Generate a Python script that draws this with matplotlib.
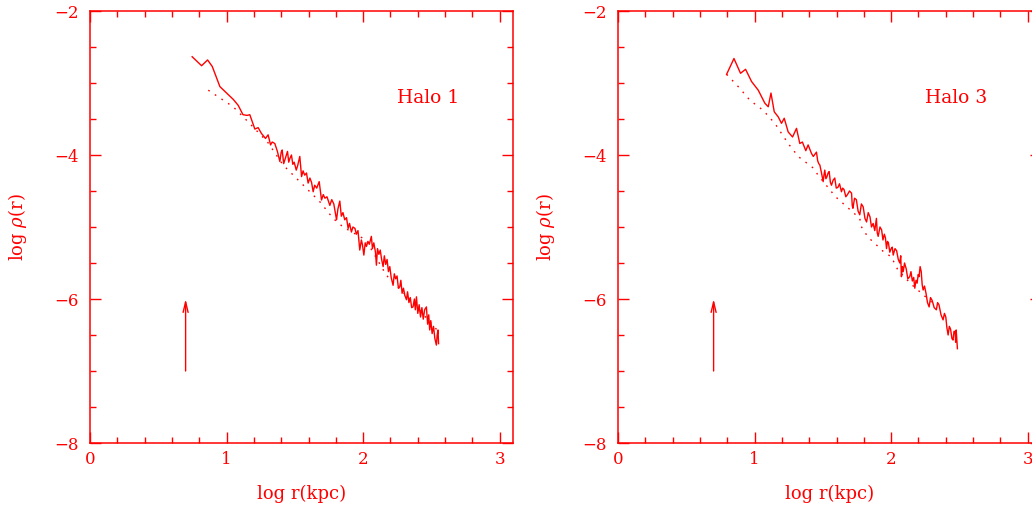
import numpy as np
import matplotlib
matplotlib.use('Agg')
import matplotlib.pyplot as plt
from matplotlib.ticker import MultipleLocator

plt.rcParams['font.family'] = 'DejaVu Serif'
plt.rcParams['mathtext.fontset'] = 'dejavuserif'

RED = '#ff0000'

# Halo 1: measured profile (log r, log rho)
h1_logr = [0.748, 0.817, 0.861, 0.895, 0.951, 1.012, 1.050, 1.085, 1.120, 1.150,
           1.170, 1.207, 1.231, 1.255, 1.285, 1.304, 1.322, 1.334, 1.353, 1.372,
           1.390, 1.400, 1.407, 1.418, 1.426, 1.440, 1.446, 1.455, 1.463, 1.475,
           1.485, 1.495, 1.510, 1.520, 1.536, 1.549, 1.560, 1.572, 1.585, 1.597,
           1.610, 1.622, 1.634, 1.645, 1.660, 1.678, 1.695, 1.708, 1.720, 1.735,
           1.756, 1.770, 1.785, 1.805, 1.815, 1.829, 1.840, 1.852, 1.865, 1.878,
           1.890, 1.900, 1.914, 1.925, 1.940, 1.950, 1.962, 1.975, 1.987, 1.995,
           2.005, 2.015, 2.024, 2.035, 2.045, 2.060, 2.068, 2.078, 2.090, 2.097,
           2.105, 2.115, 2.125, 2.135, 2.146, 2.155, 2.165, 2.175, 2.185, 2.195,
           2.205, 2.219, 2.228, 2.238, 2.248, 2.258, 2.268, 2.276, 2.285, 2.295,
           2.305, 2.317, 2.325, 2.335, 2.345, 2.355, 2.365, 2.375, 2.382, 2.390,
           2.400, 2.410, 2.420, 2.430, 2.440, 2.450, 2.463, 2.472, 2.480, 2.487,
           2.495, 2.505, 2.515, 2.525, 2.536, 2.542, 2.548, 2.552]
h1_logrho = [-2.635, -2.76, -2.68, -2.77, -3.05, -3.16, -3.23, -3.31, -3.44, -3.45,
             -3.44, -3.64, -3.62, -3.70, -3.77, -3.72, -3.86, -3.82, -3.84, -3.95,
             -4.09, -3.96, -3.93, -4.12, -4.07, -3.98, -3.95, -4.10, -4.05, -4.00,
             -4.13, -4.10, -4.21, -4.15, -4.02, -4.30, -4.22, -4.28, -4.25, -4.39,
             -4.32, -4.38, -4.51, -4.42, -4.46, -4.37, -4.625, -4.55, -4.60, -4.58,
             -4.70, -4.62, -4.68, -4.90, -4.75, -4.64, -4.85, -4.80, -4.90, -4.87,
             -5.02, -4.95, -5.07, -5.00, -5.02, -5.10, -5.05, -5.32, -5.18, -5.25,
             -5.39, -5.22, -5.27, -5.20, -5.24, -5.13, -5.30, -5.22, -5.35, -5.53,
             -5.30, -5.38, -5.32, -5.45, -5.55, -5.40, -5.52, -5.45, -5.62, -5.55,
             -5.70, -5.81, -5.65, -5.72, -5.68, -5.85, -5.83, -5.74, -5.92, -5.85,
             -5.95, -6.01, -5.90, -6.05, -5.98, -6.12, -6.11, -6.00, -6.15, -5.97,
             -6.20, -6.08, -6.25, -6.12, -6.28, -6.15, -6.11, -6.35, -6.22, -6.43,
             -6.30, -6.48, -6.38, -6.55, -6.64, -6.50, -6.43, -6.62]

# Halo 1: fitted profile (dotted)
h1_fit_logr = [0.866, 1.048, 1.158, 1.300, 1.414, 1.536, 1.683, 1.780, 1.853, 2.020, 2.170, 2.350, 2.550]
h1_fit_logrho = [-3.10, -3.33, -3.54, -3.82, -4.14, -4.37, -4.65, -4.88, -5.00, -5.18, -5.67, -6.02, -6.45]

# Halo 3: measured profile
h3_logr = [0.795, 0.849, 0.897, 0.934, 0.978, 1.027, 1.075, 1.100, 1.120, 1.144,
           1.173, 1.197, 1.217, 1.246, 1.278, 1.307, 1.331, 1.350, 1.375, 1.392,
           1.417, 1.430, 1.453, 1.462, 1.470, 1.478, 1.490, 1.502, 1.508, 1.514,
           1.522, 1.530, 1.538, 1.546, 1.555, 1.563, 1.575, 1.587, 1.598, 1.610,
           1.622, 1.636, 1.645, 1.655, 1.668, 1.680, 1.695, 1.710, 1.715, 1.720,
           1.732, 1.745, 1.758, 1.770, 1.782, 1.795, 1.808, 1.820, 1.832, 1.845,
           1.856, 1.868, 1.880, 1.892, 1.898, 1.905, 1.918, 1.930, 1.940, 1.950,
           1.958, 1.966, 1.973, 1.980, 1.990, 2.000, 2.008, 2.015, 2.028, 2.040,
           2.052, 2.063, 2.070, 2.075, 2.082, 2.088, 2.098, 2.110, 2.122, 2.136,
           2.145, 2.155, 2.165, 2.173, 2.182, 2.190, 2.198, 2.204, 2.212, 2.220,
           2.227, 2.234, 2.244, 2.255, 2.266, 2.278, 2.288, 2.300, 2.315, 2.331,
           2.340, 2.350, 2.365, 2.380, 2.390, 2.400, 2.408, 2.417, 2.426, 2.435,
           2.445, 2.453, 2.460, 2.468, 2.472, 2.476, 2.485]
h3_logrho = [-2.88, -2.66, -2.865, -2.81, -2.98, -3.10, -3.28, -3.33, -3.14, -3.40,
             -3.47, -3.56, -3.49, -3.68, -3.75, -3.63, -3.84, -3.82, -3.94, -3.86,
             -3.98, -4.02, -3.96, -4.08, -4.12, -4.14, -4.25, -4.37, -4.28, -4.21,
             -4.33, -4.30, -4.25, -4.23, -4.38, -4.42, -4.35, -4.32, -4.46, -4.45,
             -4.40, -4.51, -4.46, -4.48, -4.58, -4.55, -4.50, -4.53, -4.70, -4.74,
             -4.60, -4.62, -4.78, -4.83, -4.68, -4.72, -4.88, -4.93, -4.80, -4.86,
             -5.00, -4.95, -5.05, -4.88, -5.08, -5.13, -5.00, -5.04, -5.18, -5.10,
             -5.15, -5.30, -5.20, -5.22, -5.35, -5.30, -5.28, -5.39, -5.30, -5.33,
             -5.45, -5.50, -5.40, -5.69, -5.55, -5.62, -5.50, -5.58, -5.72, -5.69,
             -5.62, -5.75, -5.70, -5.85, -5.74, -5.78, -5.66, -5.69, -5.55, -5.62,
             -5.80, -5.875, -5.82, -5.92, -6.05, -6.11, -5.98, -6.02, -6.12, -6.15,
             -6.05, -6.08, -6.22, -6.29, -6.20, -6.25, -6.40, -6.50, -6.38, -6.42,
             -6.55, -6.57, -6.45, -6.45, -6.60, -6.43, -6.69]

# Halo 3: fitted profile (dotted)
h3_fit_logr = [0.795, 0.885, 0.966, 1.063, 1.148, 1.246, 1.319, 1.429, 1.465, 1.563,
               1.587, 1.770, 1.780, 1.830, 1.904, 1.953, 2.000, 2.050, 2.150, 2.300]
h3_fit_logrho = [-2.88, -3.06, -3.24, -3.38, -3.56, -3.84, -4.02, -4.18, -4.28, -4.51,
                 -4.57, -4.88, -4.99, -5.14, -5.27, -5.36, -5.41, -5.60, -5.80, -6.05]

arrow_x = 0.7
arrow_y = [-7.0, -6.0]

panels = [
    (h1_logr, h1_logrho, h1_fit_logr, h1_fit_logrho, 'Halo 1', 90),
    (h3_logr, h3_logrho, h3_fit_logr, h3_fit_logrho, 'Halo 3', 618),
]

W, H = 1032, 512
fig = plt.figure(figsize=(W / 100, H / 100), dpi=100)

for x, y, fx, fy, name, left_px in panels:
    ax = fig.add_axes([left_px / W, 69 / H, 423 / W, 432 / H])
    ax.plot(x, y, color=RED, lw=1.0)
    ax.plot(fx, fy, color=RED, lw=1.0, linestyle=(0, (1.2, 4.5)))
    ax.annotate('', xy=(arrow_x, arrow_y[1]), xytext=(arrow_x, arrow_y[0]),
                arrowprops=dict(arrowstyle='->,head_length=0.75,head_width=0.18',
                                color=RED, lw=1.0, shrinkA=0, shrinkB=0))
    ax.text(2.25, -3.21, name, color=RED, fontsize=13.5, va='center', ha='left')

    ax.set_xlim(0, 3.097)
    ax.set_ylim(-8, -2)
    ax.xaxis.set_major_locator(MultipleLocator(1))
    ax.xaxis.set_minor_locator(MultipleLocator(0.2))
    ax.yaxis.set_major_locator(MultipleLocator(2))
    ax.yaxis.set_minor_locator(MultipleLocator(0.5))
    ax.tick_params(which='both', direction='in', top=True, right=True,
                   colors=RED, width=1.0, labelsize=12)
    ax.tick_params(which='major', length=8)
    ax.tick_params(which='minor', length=4.5)
    ax.tick_params(axis='x', pad=6)
    ax.tick_params(axis='y', pad=8)
    for sp in ax.spines.values():
        sp.set_color(RED)
        sp.set_linewidth(1.1)
    ax.set_xlabel('log r(kpc)', color=RED, fontsize=13, labelpad=12)
    ax.set_ylabel(r'log $\rho$(r)', color=RED, fontsize=13, labelpad=18)

fig.savefig('out.png', dpi=100)
